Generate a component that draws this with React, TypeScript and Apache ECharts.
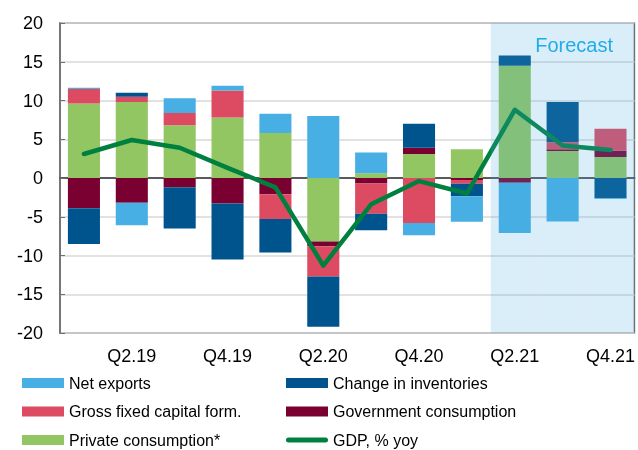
import React, { useEffect, useRef } from "react";
import * as echarts from "echarts";

const categories = ["Q1.19", "Q2.19", "Q3.19", "Q4.19", "Q1.20", "Q2.20", "Q3.20", "Q4.20", "Q1.21", "Q2.21", "Q3.21", "Q4.21"];
const forecastCategories = ["Q2.21", "Q3.21", "Q4.21"];

const privateConsumption = [9.6, 9.8, 6.8, 7.8, 5.8, -8.2, 0.6, 3.1, 3.7, 14.5, 3.5, 2.7];
const governmentConsumption = [-3.9, -3.2, -1.2, -3.3, -2.1, -0.6, -0.7, 0.8, -0.25, -0.6, 0.2, 0.85];
const grossFixedCapital = [1.9, 0.7, 1.6, 3.5, -3.2, -3.9, -3.9, -5.8, -0.5, 0, 0.9, 2.8];
const inventories = [-4.6, 0.5, -5.3, -7.2, -4.3, -6.5, -2.15, 3.1, -1.6, 1.3, 5.2, -2.6];
const netExports = [0.15, -2.9, 1.9, 0.6, 2.5, 8.0, 2.7, -1.6, -3.3, -6.5, -5.6, -0.1];
const gdp = [3.1, 4.9, 3.9, 1.3, -1.2, -11.3, -3.4, -0.4, -2.0, 8.8, 4.2, 3.6];

const FONT = "Liberation Sans, Arial, sans-serif";
const LINE_ICON = "path://M2.5,0 L39.5,0 A2.5,2.5 0 0 1 39.5,5 L2.5,5 A2.5,2.5 0 0 1 2.5,0 Z";

export default function App() {
  const ref = useRef<HTMLDivElement>(null);
  useEffect(() => {
    if (!ref.current) return;
    const chart = echarts.init(ref.current, null, { renderer: "svg" });
    const barCommon = { type: "bar", stack: "total", barWidth: "67%", xAxisIndex: 0, yAxisIndex: 0 };
    const shade = categories.map((c) => (forecastCategories.includes(c) ? 1 : null));
    const legendCommon = {
      orient: "vertical",
      top: 370,
      height: 100,
      itemWidth: 42,
      itemHeight: 10,
      itemGap: 12.5,
      textStyle: { fontSize: 16, color: "#000", fontFamily: FONT },
    };
    chart.setOption({
      animation: false,
      textStyle: { fontFamily: FONT },
      grid: [{ left: 60, right: 3, top: 23, bottom: 117, show: true, borderColor: "#6e6e6e", borderWidth: 1.5, backgroundColor: "transparent" }],
      xAxis: [
        {
          type: "category",
          data: categories,
          gridIndex: 0,
          axisLine: { show: true, lineStyle: { color: "#5a5a5a", width: 2 } },
          axisTick: { show: false },
          axisLabel: {
            interval: (idx: number) => idx % 2 === 1,
            fontSize: 18,
            color: "#000",
            margin: 14,
            fontFamily: FONT,
          },
        },
        { type: "category", data: categories, gridIndex: 0, show: false },
      ],
      yAxis: [
        {
          type: "value",
          min: -20,
          max: 20,
          interval: 5,
          axisLine: { show: true, lineStyle: { color: "#6e6e6e", width: 1.5 } },
          axisTick: { show: true, inside: true, length: 5, lineStyle: { color: "#6e6e6e" } },
          splitLine: { show: true, lineStyle: { color: "#d9d9d9", width: 1.5 } },
          axisLabel: { fontSize: 18, color: "#000", margin: 17, fontFamily: FONT },
        },
        { type: "value", min: 0, max: 1, show: false },
      ],
      legend: [
        {
          ...legendCommon,
          left: 17,
          icon: "rect",
          data: ["Net exports", "Gross fixed capital form.", "Private consumption*"],
        },
        {
          ...legendCommon,
          left: 281,
          data: [
            { name: "Change in inventories", icon: "rect" },
            { name: "Government consumption", icon: "rect" },
            { name: "GDP, % yoy", icon: LINE_ICON },
          ],
        },
      ],
      graphic: [
        {
          type: "text",
          right: 25,
          top: 35,
          z: 100,
          style: { text: "Forecast", fontSize: 20, fill: "#20ACE8", fontFamily: FONT },
        },
      ],
      series: [
        { ...barCommon, name: "Private consumption*", data: privateConsumption, itemStyle: { color: "#92C663" } },
        { ...barCommon, name: "Government consumption", data: governmentConsumption, itemStyle: { color: "#7A0031" } },
        { ...barCommon, name: "Gross fixed capital form.", data: grossFixedCapital, itemStyle: { color: "#DD4B63" } },
        { ...barCommon, name: "Change in inventories", data: inventories, itemStyle: { color: "#00548E" } },
        { ...barCommon, name: "Net exports", data: netExports, itemStyle: { color: "#47AFE4" } },
        {
          type: "line",
          name: "GDP, % yoy",
          data: gdp,
          symbol: "none",
          z: 3,
          itemStyle: { color: "#00803E" },
          lineStyle: { color: "#00803E", width: 4.5, cap: "round", join: "round" },
        },
        {
          type: "bar",
          name: "forecastShade",
          xAxisIndex: 1,
          yAxisIndex: 1,
          data: shade,
          barWidth: "100%",
          silent: true,
          z: 10,
          itemStyle: { color: "rgba(72,170,225,0.2)" },
        },
      ],
    });
    return () => chart.dispose();
  }, []);
  return <div ref={ref} style={{ position: "fixed", left: 0, top: 0, width: 638, height: 450 }} />;
}
